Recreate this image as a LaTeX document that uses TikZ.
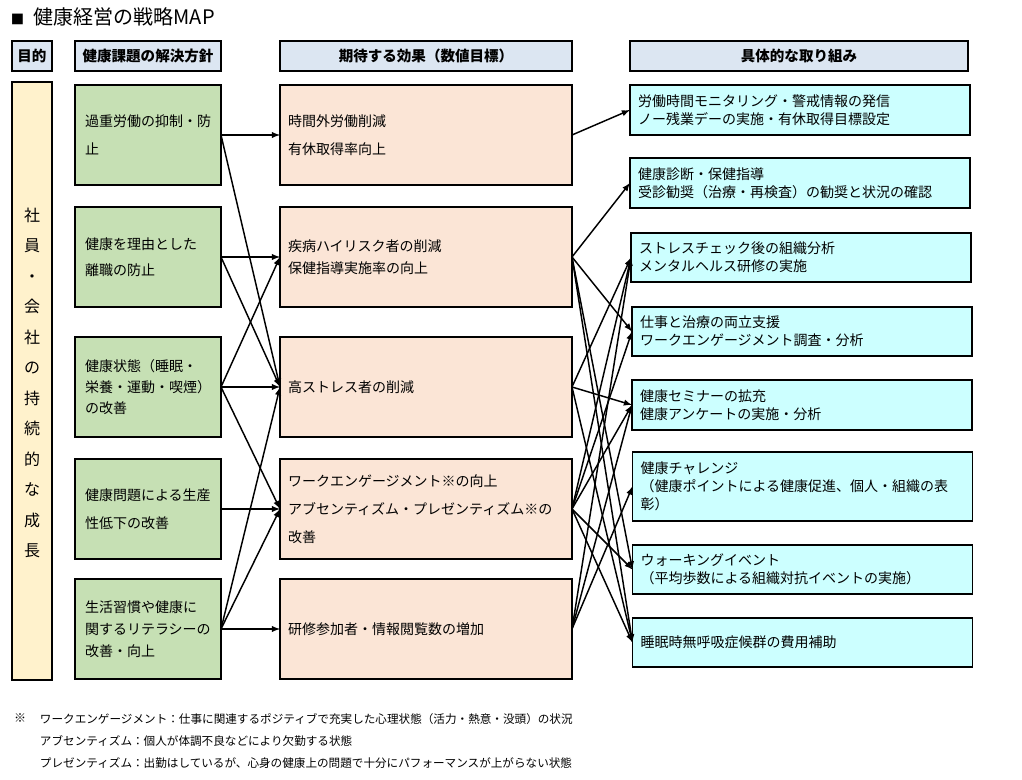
\documentclass[tikz,border=0pt]{standalone}
\usepackage{fontspec}
\setmainfont{Noto Sans CJK JP}
\usepackage{tikz}
\usetikzlibrary{arrows,shapes,positioning}
\definecolor{headblue}{RGB}{220,230,242}
\definecolor{goalyellow}{RGB}{255,242,204}
\definecolor{policygreen}{RGB}{198,224,180}
\definecolor{effectpeach}{RGB}{251,229,214}
\definecolor{actioncyan}{RGB}{204,255,255}

\begin{document}
\begin{tikzpicture}[x=0.75pt,y=-0.75pt]
                \tikzstyle{every node}+=[inner sep=0pt, outer sep=0pt]
                \tikzstyle{head}=[draw=black, line width=1.5pt, fill=headblue, font=\bfseries\fontsize{10.9}{13}\selectfont]
                \tikzstyle{policy}=[draw=black, line width=1.2pt, fill=policygreen, minimum width=109.5pt, minimum height=75pt, inner xsep=7.5pt, text width=94.5pt, align=left]
                \tikzstyle{effect}=[draw=black, line width=1.2pt, fill=effectpeach, minimum width=219pt, minimum height=75pt, inner xsep=6pt, text width=207pt, align=left]
                \tikzstyle{action}=[draw=black, line width=1.2pt, fill=actioncyan, minimum width=255pt, inner xsep=6pt, text width=243pt, align=left, font=\fontsize{10.5}{13.2}\selectfont]
                \tikzstyle{link}=[black, line width=1.1pt, -latex]
                \useasboundingbox (0,0) rectangle (1022,780);
                % title and headers
                \node [anchor=west, font=\fontsize{15}{17}\selectfont] (title) at (11,17) {{\fontsize{10}{12}\selectfont ■}\hspace{7pt}健康経営の戦略MAP};
                \node [head, minimum width=30pt, minimum height=22.5pt] (goalhead) at (32,56) {目的};
                \node [head, minimum width=109.5pt, minimum height=22.5pt] (policyhead) at (148,56) {健康課題の解決方針};
                \node [head, minimum width=219pt, minimum height=22.5pt] (effecthead) at (426,56) {期待する効果（数値目標）};
                \node [head, minimum width=253.5pt, minimum height=22.5pt] (actionhead) at (799,56) {具体的な取り組み};
                % goal
                \node [draw=black, line width=1.2pt, fill=goalyellow, minimum width=30pt, minimum height=448.5pt] (goal) at (32,381) {};
                \node [align=center, font=\fontsize{12}{22.9}\selectfont] (goaltext) at (32,383) {社\\員\\・\\会\\社\\の\\持\\続\\的\\な\\成\\長};
                % policies
                \node [policy, font=\fontsize{10.5}{21}\selectfont] (A1) at (148,135) {過重労働の抑制・防\\止};
                \node [policy, font=\fontsize{10.5}{19.5}\selectfont] (A2) at (148,257) {健康を理由とした\\離職の防止};
                \node [policy, font=\fontsize{10.5}{16}\selectfont] (A3) at (148,387) {健康状態（睡眠・\\栄養・運動・喫煙）\\の改善};
                \node [policy, font=\fontsize{10.5}{21}\selectfont] (A4) at (148,509) {健康問題による生産\\性低下の改善};
                \node [policy, font=\fontsize{10.5}{16.5}\selectfont] (A5) at (148,629) {生活習慣や健康に\\関するリテラシーの\\改善・向上};
                % effects
                \node [effect, font=\fontsize{10.5}{21}\selectfont] (B1) at (426,135) {時間外労働削減\\有休取得率向上};
                \node [effect, font=\fontsize{10.5}{16.5}\selectfont] (B2) at (426,257) {疾病ハイリスク者の削減\\保健指導実施率の向上};
                \node [effect, font=\fontsize{10.5}{21}\selectfont] (B3) at (426,387) {高ストレス者の削減};
                \node [effect, font=\fontsize{10.5}{21}\selectfont] (B4) at (426,509) {ワークエンゲージメント※の向上\\アブセンティズム・プレゼンティズム※の\\改善};
                \node [effect, font=\fontsize{10.5}{21}\selectfont] (B5) at (426,629) {研修参加者・情報閲覧数の増加};
                % actions
                \node [action, minimum height=37.5pt] (C1) at (800,110) {労働時間モニタリング・警戒情報の発信\\ノー残業デーの実施・有休取得目標設定};
                \node [action, minimum height=37.5pt] (C2) at (800,183) {健康診断・保健指導\\受診勧奨（治療・再検査）の勧奨と状況の確認};
                \node [action, minimum height=37pt] (C3) at (801,257.5) {ストレスチェック後の組織分析\\メンタルヘルス研修の実施};
                \node [action, minimum height=37pt] (C4) at (802,331.5) {仕事と治療の両立支援\\ワークエンゲージメント調査・分析};
                \node [action, minimum height=37.5pt] (C5) at (802,405) {健康セミナーの拡充\\健康アンケートの実施・分析};
                \node [action, minimum height=52pt, font=\fontsize{10.5}{13.5}\selectfont] (C6) at (802.5,486.5) {健康チャレンジ\\（健康ポイントによる健康促進、個人・組織の表\\彰）};
                \node [action, minimum height=37pt] (C7) at (802.5,569.5) {ウォーキングイベント\\（平均歩数による組織対抗イベントの実施）};
                \node [action, minimum height=37pt] (C8) at (802.5,642.5) {睡眠時無呼吸症候群の費用補助};
                % policies to effects
                \draw [link] (A1.east) -- (B1.west);
                \draw [link] (A1.east) -- (B3.west);
                \draw [link] (A2.east) -- (B2.west);
                \draw [link] (A2.east) -- (B3.west);
                \draw [link] (A3.east) -- (B2.west);
                \draw [link] (A3.east) -- (B3.west);
                \draw [link] (A3.east) -- (B4.west);
                \draw [link] (A4.east) -- (B4.west);
                \draw [link] (A5.east) -- (B3.west);
                \draw [link] (A5.east) -- (B4.west);
                \draw [link] (A5.east) -- (B5.west);
                % effects to actions
                \draw [link] (B1.east) -- (C1.west);
                \draw [link] (B2.east) -- (C2.west);
                \draw [link] (B2.east) -- (C4.west);
                \draw [link] (B2.east) -- (C7.west);
                \draw [link] (B2.east) -- (C8.west);
                \draw [link] (B3.east) -- (C3.west);
                \draw [link] (B3.east) -- (C5.west);
                \draw [link] (B3.east) -- (C8.west);
                \draw [link] (B4.east) -- (C3.west);
                \draw [link] (B4.east) -- (C4.west);
                \draw [link] (B4.east) -- (C5.west);
                \draw [link] (B4.east) -- (C7.west);
                \draw [link] (B4.east) -- (C8.west);
                \draw [link] (B5.east) -- (C3.west);
                \draw [link] (B5.east) -- (C5.west);
                \draw [link] (B5.east) -- (C6.west);
                % note
                \node [anchor=north west, font=\fontsize{9}{11}\selectfont] (notemark) at (14,714) {※};
                \node [anchor=north west, align=left, font=\fontsize{8.7}{16.5}\selectfont] (notetext) at (40,714) {ワークエンゲージメント：仕事に関連するポジティブで充実した心理状態（活力・熱意・没頭）の状況\\アブセンティズム：個人が体調不良などにより欠勤する状態\\プレゼンティズム：出勤はしているが、心身の健康上の問題で十分にパフォーマンスが上がらない状態};
\end{tikzpicture}
\end{document}
